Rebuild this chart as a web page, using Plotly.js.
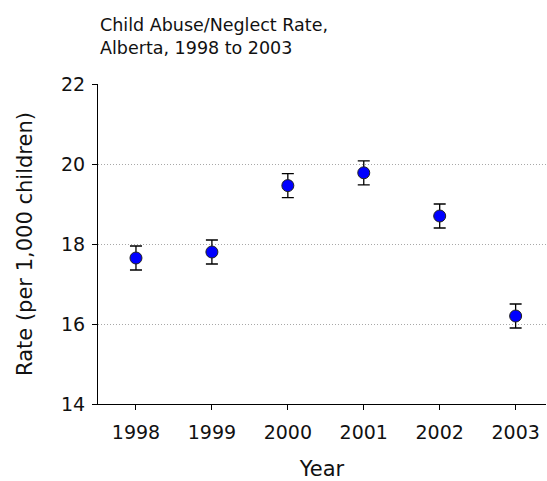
<!DOCTYPE html>
<html>
<head>
<meta charset="utf-8">
<script src="https://cdn.plot.ly/plotly-3.0.1.min.js"></script>
<style>html,body{margin:0;padding:0;background:#fff;}#chart{width:547px;height:481px;}</style>
</head>
<body>
<div id="chart"></div>
<script>
var years = [1998, 1999, 2000, 2001, 2002, 2003];
var rates = [17.65, 17.8, 19.46, 19.78, 18.7, 16.2];
var errors = [0.3, 0.3, 0.3, 0.3, 0.3, 0.3];
var yTicks = [14, 16, 18, 20, 22];
var chartTitle = 'Child Abuse/Neglect Rate,<br>Alberta, 1998 to 2003';

var fontFam = 'DejaVu Sans, Verdana, sans-serif';

var trace = {
  x: years,
  y: rates,
  type: 'scatter',
  mode: 'markers',
  marker: {color: '#0000FF', size: 12, line: {color: '#222', width: 1}},
  error_y: {type: 'data', array: errors, visible: true, color: '#000', thickness: 1.3, width: 6},
  hoverinfo: 'x+y'
};

var layout = {
  width: 547, height: 481,
  margin: {l: 98, r: 1, t: 84, b: 77},
  paper_bgcolor: '#fff', plot_bgcolor: '#fff',
  showlegend: false,
  font: {family: fontFam, color: '#111', size: 18},
  annotations: [{
    text: chartTitle, xref: 'paper', yref: 'paper', x: 0, y: 1, xanchor: 'left', yanchor: 'bottom',
    yshift: 24, showarrow: false, align: 'left',
    font: {family: fontFam, size: 17.5, color: '#111'}
  }],
  xaxis: {
    range: [1997.5, 2003.4], tickvals: years, ticktext: years.map(String),
    showgrid: false, zeroline: false, showline: true, linecolor: '#000', linewidth: 1,
    ticks: 'outside', ticklen: 5, tickcolor: '#000', ticklabelstandoff: 6,
    tickfont: {family: fontFam, size: 19},
    title: {text: 'Year', font: {family: fontFam, size: 21}, standoff: 24}
  },
  yaxis: {
    range: [14, 22], tickvals: yTicks, ticktext: yTicks.map(String),
    showgrid: true, gridcolor: '#a8a8a8', griddash: '1px,2px', gridwidth: 1,
    zeroline: false, showline: true, linecolor: '#000', linewidth: 1,
    ticks: 'outside', ticklen: 5, tickcolor: '#000', ticklabelstandoff: 3,
    tickfont: {family: fontFam, size: 19},
    title: {text: 'Rate (per 1,000 children)', font: {family: fontFam, size: 21}, standoff: 22}
  }
};

Plotly.newPlot('chart', [trace], layout, {displayModeBar: false, staticPlot: true});
</script>
</body>
</html>
